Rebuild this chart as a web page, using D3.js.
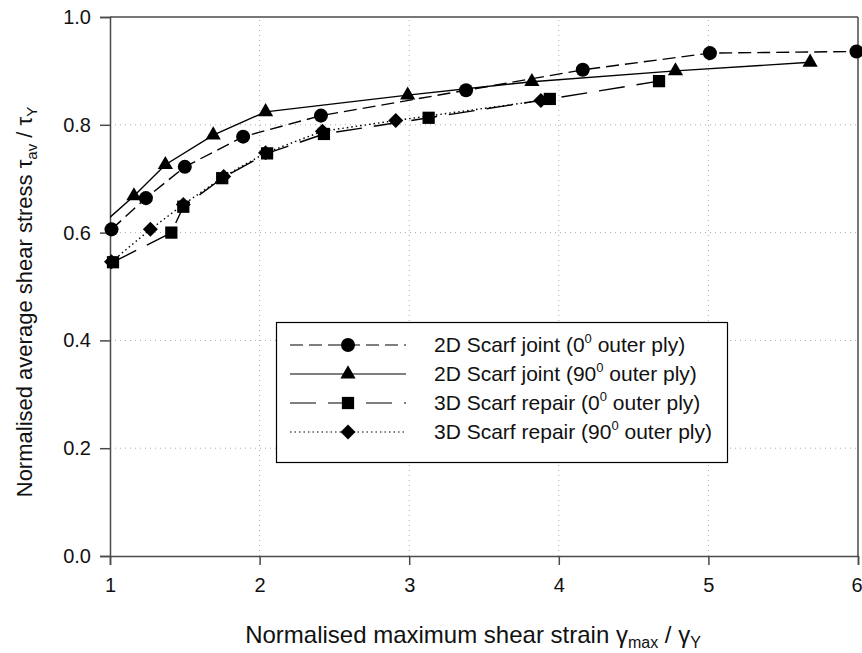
<!DOCTYPE html>
<html>
<head>
<meta charset="utf-8">
<script src="https://cdn.jsdelivr.net/npm/d3@7"></script>
<style>
  body { margin: 0; background: #fff; }
  svg { display: block; font-family: "Liberation Sans", Arial, sans-serif; }
</style>
</head>
<body>
<svg id="chart" width="862" height="653"></svg>
<script>
// Axis ticks
const xTicks = [1, 2, 3, 4, 5, 6];
const yTicks = [0.0, 0.2, 0.4, 0.6, 0.8, 1.0];
const xGrid = [2, 3, 4, 5];
const yGrid = [0.2, 0.4, 0.6, 0.8];

// Series: normalised max shear strain (x) vs normalised average shear stress (y)
const joint0X  = [1.01, 1.24, 1.50, 1.89, 2.41, 3.38, 4.16, 5.01, 5.99];
const joint0Y  = [0.606, 0.664, 0.722, 0.778, 0.817, 0.864, 0.902, 0.933, 0.936];

// first point lies just left of the axis range, so only its line segment shows
const joint90X = [0.95, 1.16, 1.37, 1.69, 2.04, 2.99, 3.82, 4.78, 5.68];
const joint90Y = [0.616, 0.668, 0.726, 0.781, 0.824, 0.855, 0.880, 0.900, 0.916];

const repair0X = [1.02, 1.41, 1.49, 1.75, 2.05, 2.43, 3.13, 3.94, 4.67];
const repair0Y = [0.545, 0.600, 0.648, 0.701, 0.747, 0.783, 0.813, 0.848, 0.881];

const repair90X = [1.01, 1.27, 1.49, 1.76, 2.04, 2.42, 2.91, 3.88];
const repair90Y = [0.546, 0.606, 0.652, 0.704, 0.748, 0.788, 0.808, 0.845];

const seriesNames = [
  ["2D Scarf joint (0", "0", " outer ply)"],
  ["2D Scarf joint (90", "0", " outer ply)"],
  ["3D Scarf repair (0", "0", " outer ply)"],
  ["3D Scarf repair (90", "0", " outer ply)"]
];

const width = 862, height = 653;
const margin = { top: 17, right: 4, bottom: 97, left: 110 };

const svg = d3.select("#chart");

const x = d3.scaleLinear().domain([1, 6]).range([margin.left, width - margin.right]);
const y = d3.scaleLinear().domain([0, 1]).range([height - margin.bottom, margin.top]);

const axisColor = "#4a4a4a";

// Clip region for lines (plot area)
svg.append("defs").append("clipPath").attr("id", "plotClip")
  .append("rect").attr("x", x(1)).attr("y", y(1)).attr("width", x(6) - x(1)).attr("height", y(0) - y(1));

// Dotted grid
const grid = svg.append("g");
grid.selectAll("line.gx").data(xGrid).join("line")
  .attr("x1", d => x(d)).attr("x2", d => x(d))
  .attr("y1", y(0)).attr("y2", y(1))
  .attr("stroke", "#aaa").attr("stroke-width", 1).attr("stroke-dasharray", "1,4");
grid.selectAll("line.gy").data(yGrid).join("line")
  .attr("x1", x(1)).attr("x2", x(6))
  .attr("y1", d => y(d)).attr("y2", d => y(d))
  .attr("stroke", "#aaa").attr("stroke-width", 1).attr("stroke-dasharray", "1,4");

// Frame (top and right)
svg.append("line").attr("x1", x(1)).attr("x2", x(6)).attr("y1", y(1)).attr("y2", y(1))
  .attr("stroke", axisColor).attr("stroke-width", 1.5);
svg.append("line").attr("x1", x(6)).attr("x2", x(6)).attr("y1", y(0)).attr("y2", y(1))
  .attr("stroke", axisColor).attr("stroke-width", 1.5);

// Axes
const xAxis = svg.append("g").attr("transform", `translate(0,${y(0)})`)
  .call(d3.axisBottom(x).tickValues(xTicks).tickFormat(d3.format("d")).tickSizeOuter(0).tickSize(9).tickPadding(13));
const yAxis = svg.append("g").attr("transform", `translate(${x(1)},0)`)
  .call(d3.axisLeft(y).tickValues(yTicks).tickFormat(d3.format(".1f")).tickSizeOuter(0).tickSize(10).tickPadding(9));
[xAxis, yAxis].forEach(a => {
  a.select(".domain").attr("stroke", axisColor).attr("stroke-width", 1.5);
  a.selectAll(".tick line").attr("stroke", axisColor).attr("stroke-width", 1.5);
  a.selectAll(".tick text").attr("fill", "#111").style("font-size", "20px")
    .style("font-family", "'Liberation Sans', Arial, sans-serif");
});
// keep the last x label inside the page edge
xAxis.selectAll(".tick text").filter(d => d === 6).attr("text-anchor", "end").attr("x", 4);

// Symbols
const diamondPath = s => `M0,${-s}L${s},0L0,${s}L${-s},0Z`;
const markers = {
  circle:   d3.symbol().type(d3.symbolCircle).size(155)(),
  triangle: d3.symbol().type(d3.symbolTriangle).size(100)(),
  square:   d3.symbol().type(d3.symbolSquare).size(150)(),
  diamond:  diamondPath(7.5)
};

const series = [
  { xs: joint0X,   ys: joint0Y,   dash: "13,6",  marker: "circle",   name: seriesNames[0] },
  { xs: joint90X,  ys: joint90Y,  dash: null,    marker: "triangle", name: seriesNames[1] },
  { xs: repair0X,  ys: repair0Y,  dash: "26,12", marker: "square",   name: seriesNames[2] },
  { xs: repair90X, ys: repair90Y, dash: "1.5,3", marker: "diamond",  name: seriesNames[3] }
];

const line = d3.line().x(d => x(d[0])).y(d => y(d[1]));

// Draw later series underneath earlier ones
const plot = svg.append("g");
series.slice().reverse().forEach(s => {
  const pts = s.xs.map((v, i) => [v, s.ys[i]]);
  plot.append("path").datum(pts).attr("d", line).attr("clip-path", "url(#plotClip)")
    .attr("fill", "none").attr("stroke", "#000").attr("stroke-width", 1.4)
    .attr("stroke-dasharray", s.dash);
});
series.slice().reverse().forEach(s => {
  const pts = s.xs.map((v, i) => [v, s.ys[i]]).filter(d => d[0] >= 1);
  plot.append("g").selectAll("path").data(pts).join("path")
    .attr("transform", d => `translate(${x(d[0])},${y(d[1])})`)
    .attr("d", markers[s.marker]).attr("fill", "#000");
});

// Legend
const lg = svg.append("g");
lg.append("rect").attr("x", 276.5).attr("y", 322.5).attr("width", 451).attr("height", 140)
  .attr("fill", "#fff").attr("stroke", "#000").attr("stroke-width", 1.2);
series.forEach((s, i) => {
  const ry = 345 + i * 29;
  lg.append("line").attr("x1", 290).attr("x2", 406).attr("y1", ry).attr("y2", ry)
    .attr("stroke", "#000").attr("stroke-width", 1.2).attr("stroke-dasharray", s.dash);
  lg.append("path").attr("transform", `translate(348,${ry})`).attr("d", markers[s.marker]).attr("fill", "#000");
  const t = lg.append("text").attr("x", 434).attr("y", ry + 7).style("font-size", "21px").attr("fill", "#111");
  t.append("tspan").text(s.name[0]);
  t.append("tspan").attr("dy", -9).style("font-size", "13px").text(s.name[1]);
  t.append("tspan").attr("dy", 9).text(s.name[2]);
});

// Axis titles
const xt = svg.append("text").attr("x", 473).attr("y", 643).attr("text-anchor", "middle")
  .style("font-size", "24px").attr("fill", "#111");
xt.append("tspan").text("Normalised maximum shear strain γ");
xt.append("tspan").attr("dy", 5).style("font-size", "16px").text("max");
xt.append("tspan").attr("dy", -5).text(" / γ");
xt.append("tspan").attr("dy", 5).style("font-size", "16px").text("Y");

const yt = svg.append("text").attr("transform", "translate(32,302) rotate(-90)").attr("text-anchor", "middle")
  .style("font-size", "22px").attr("fill", "#111");
yt.append("tspan").text("Normalised average shear stress τ");
yt.append("tspan").attr("dy", 5).style("font-size", "15px").text("av");
yt.append("tspan").attr("dy", -5).text(" / τ");
yt.append("tspan").attr("dy", 5).style("font-size", "15px").text("Y");
</script>
</body>
</html>
